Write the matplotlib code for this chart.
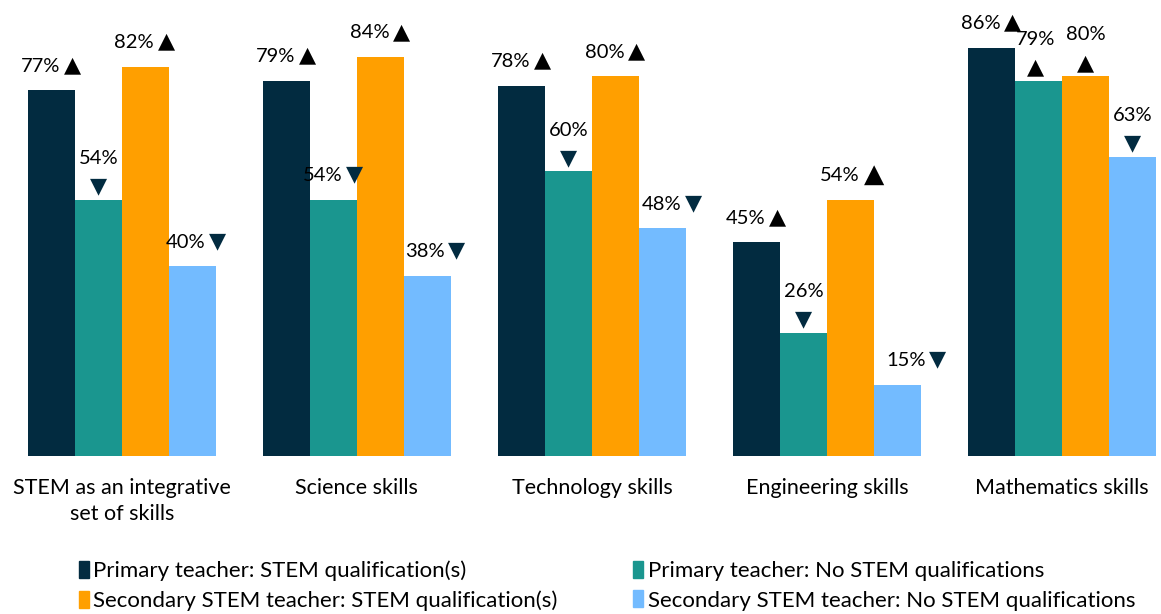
import numpy as np
import matplotlib.pyplot as plt
from matplotlib.patches import Patch

plt.rcParams['font.family'] = ['Lato', 'DejaVu Sans']

categories = ['STEM as an integrative\nset of skills', 'Science skills', 'Technology skills',
              'Engineering skills', 'Mathematics skills']
series = ['Primary teacher: STEM qualification(s)',
          'Primary teacher: No STEM qualifications',
          'Secondary STEM teacher: STEM qualification(s)',
          'Secondary STEM teacher: No STEM qualifications']
primary_stem = [77, 79, 78, 45, 86]
primary_no_stem = [54, 54, 60, 26, 79]
secondary_stem = [82, 84, 80, 54, 80]
secondary_no_stem = [40, 38, 48, 15, 63]
# direction of the significance arrow per bar: 'up' / 'down'
arrows = [
    ['up', 'down', 'up', 'down'],
    ['up', 'down', 'up', 'down'],
    ['up', 'down', 'up', 'down'],
    ['up', 'down', 'up', 'down'],
    ['up', 'up', 'up', 'down'],
]
# label layout: 'side' = arrow to the right of the text, 'below' = arrow under the text
layout = [
    ['side', 'below', 'side', 'side'],
    ['side', 'side', 'side', 'side'],
    ['side', 'below', 'side', 'side'],
    ['side', 'below', 'side', 'side'],
    ['side', 'below', 'below', 'below'],
]
extra_dx = [
    [0, 0, 0, 4],
    [0, 0, 0, 8],
    [0, 0, 0, 10],
    [0, 0, 0, 19],
    [0, -3, 0, 0],
]

colors = ['#022b40', '#1a968f', '#ff9f00', '#73bbff']
values = [primary_stem, primary_no_stem, secondary_stem, secondary_no_stem]

fig = plt.figure(figsize=(11.61, 6.14), dpi=100)
ax = fig.add_axes([16 / 1161, 158 / 614, 1145 / 1161, 456 / 614])

x = np.arange(len(categories))
w = 0.2
for i, vals in enumerate(values):
    pos = x + (i - 1.5) * w
    ax.bar(pos, vals, width=w, color=colors[i], label=series[i])
    for g, (px, v) in enumerate(zip(pos, vals)):
        up = arrows[g][i] == 'up'
        sym = '\u25B2' if up else '\u25BC'
        acol = 'black' if up else '#022b40'
        dx = extra_dx[g][i]
        big = (g == 3 and i == 2)
        if layout[g][i] == 'side':
            ax.annotate(f'{v}%', (px, v), xytext=(dx - 11, 24), textcoords='offset pixels',
                        ha='center', va='center', fontsize=14.5)
            ax.annotate(sym, (px, v), xytext=(dx + (23 if big else 21), 25),
                        textcoords='offset pixels', ha='center', va='center',
                        fontsize=19 if big else 16, color=acol, family='DejaVu Sans')
        else:
            ax.annotate(f'{v}%', (px, v), xytext=(dx, 41), textcoords='offset pixels',
                        ha='center', va='center', fontsize=14.5)
            ax.annotate(sym, (px, v), xytext=(dx, 13), textcoords='offset pixels',
                        ha='center', va='center', fontsize=16, color=acol,
                        family='DejaVu Sans')

ax.set_xlim(-0.45, 4.42)
ax.set_ylim(0, 96)
ax.set_xticks(x)
ax.set_xticklabels(categories, fontsize=15.5, linespacing=1.35)
ax.tick_params(axis='x', length=0, pad=16)
ax.set_yticks([])
for s in ax.spines.values():
    s.set_visible(False)

handles = [Patch(color=c) for c in colors]
# order so that the two columns read row by row like the original
order = [0, 2, 1, 3]
fig.legend([handles[k] for k in order], [series[k] for k in order], ncol=2,
           loc='upper left', bbox_to_anchor=(70 / 1161, 1 - 552 / 614),
           frameon=False, fontsize=16, handlelength=0.45, handleheight=0.8,
           handletextpad=0.2, columnspacing=3.4, labelspacing=0.4, borderaxespad=0)

fig.savefig('out.png', dpi=100)
